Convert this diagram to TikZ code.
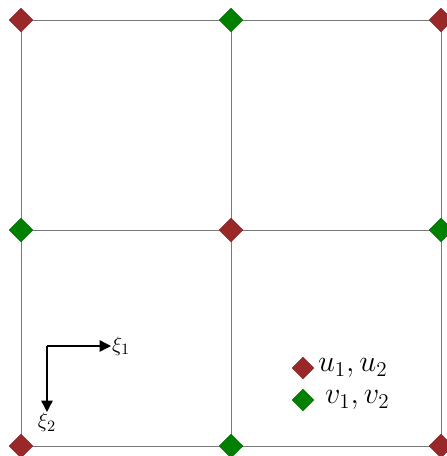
\documentclass[tikz,border=0pt]{standalone}
\usepackage{xcolor}
\usepackage{tikz}
\usetikzlibrary{positioning,shapes,arrows.meta}
\definecolor{ured}{RGB}{155,40,40}
\definecolor{vgreen}{RGB}{0,128,0}
\definecolor{gridgray}{RGB}{120,120,120}
\tikzset{
    gridline/.style={draw=gridgray, line width=0.5pt},
    udof/.style={diamond, fill=ured, draw=ured!80!black, line width=0.2pt, inner sep=0pt, minimum width=0.48cm, minimum height=0.48cm},
    vdof/.style={diamond, fill=vgreen, draw=vgreen!80!black, line width=0.2pt, inner sep=0pt, minimum width=0.48cm, minimum height=0.48cm},
    axis/.style={-{Triangle[length=6.5pt,width=6.5pt]}, line width=0.8pt, black},
    axislabel/.style={inner sep=0.5pt, font=\fontsize{12.5}{14}\selectfont},
    legend/.style={right, inner sep=1pt, font=\fontsize{16.5}{19}\selectfont}
}

\begin{document}
\begin{tikzpicture}[x=0.02cm, y=-0.02cm]

\useasboundingbox (0,0) rectangle (446,456);

% grid points
\coordinate (p00) at (21,20);
\coordinate (p10) at (231,20);
\coordinate (p20) at (441,20);
\coordinate (p01) at (21,230);
\coordinate (p11) at (231,230);
\coordinate (p21) at (441,230);
\coordinate (p02) at (21,446);
\coordinate (p12) at (231,446);
\coordinate (p22) at (441,446);

\draw[gridline] (p00) -- (p20);
\draw[gridline] (p01) -- (p21);
\draw[gridline] (p02) -- (p22);
\draw[gridline] (p00) -- (p02);
\draw[gridline] (p10) -- (p12);
\draw[gridline] (p20) -- (p22);

% u nodes
\node[udof] (u00) at (p00) {};
\node[udof] (u20) at (p20) {};
\node[udof] (u11) at (p11) {};
\node[udof] (u02) at (p02) {};
\node[udof] (u22) at (p22) {};

% v nodes
\node[vdof] (v10) at (p10) {};
\node[vdof] (v01) at (p01) {};
\node[vdof] (v21) at (p21) {};
\node[vdof] (v12) at (p12) {};

% reference axes
\coordinate (origin) at (47,346);
\coordinate (xi1tip) at (111,346);
\coordinate (xi2tip) at (47,412);
\node[axislabel, anchor=west] (xi1) at (xi1tip) {$\xi_1$};
\node[axislabel, anchor=north] (xi2) at (xi2tip) {$\xi_2$};
\draw[axis] (origin) -- (xi1tip);
\draw[axis] (origin) -- (xi2tip);

% legend
\node[udof, minimum width=0.44cm, minimum height=0.44cm] (leg1) at (303,368) {};
\node[legend, right=1pt of leg1] (leg1text) {$u_1, u_2$};
\node[vdof, minimum width=0.44cm, minimum height=0.44cm] (leg2) at (303,400) {};
\node[legend, right=5pt of leg2] (leg2text) {$v_1, v_2$};

\end{tikzpicture}
\end{document}
